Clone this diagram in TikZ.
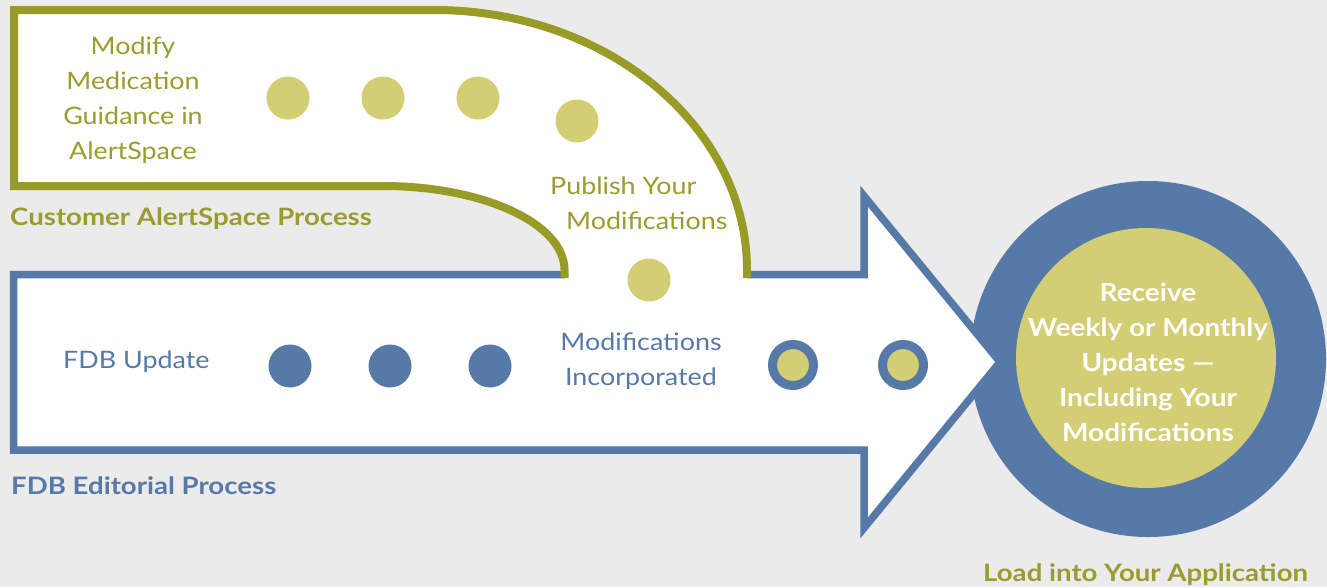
\documentclass[tikz,border=0pt]{standalone}
\usepackage{fontspec}
\setmainfont{Lato}[FakeStretch=1.12]
\newfontfamily\labelfont{Lato}[FakeStretch=1.15]
\definecolor{bgc}{RGB}{235,235,235}
\definecolor{olive}{RGB}{152,155,38}
\definecolor{olivetext}{RGB}{155,156,46}
\definecolor{dotgreen}{RGB}{211,205,116}
\definecolor{fdbblue}{RGB}{86,121,168}
\begin{document}
\begin{tikzpicture}[x=1pt,y=-1pt,
  greendot/.style={circle,fill=dotgreen,minimum size=43pt,inner sep=0pt},
  bluedot/.style={circle,fill=fdbblue,minimum size=43pt,inner sep=0pt},
  ringdot/.style={circle,fill=dotgreen,draw=fdbblue,line width=9pt,minimum size=41pt,inner sep=0pt},
  regtxt/.style={inner sep=0pt,font=\fontsize{24}{35}\selectfont,align=center},
  boldtxt/.style={inner sep=0pt,font=\labelfont\bfseries\fontsize{24}{35}\selectfont},
  gtube/.style={draw=olive,line width=8pt,line join=miter},
  barrow/.style={draw=fdbblue,line width=7.5pt,line join=miter,fill=white}]
\fill[bgc] (0,0) rectangle (1327,587);
\useasboundingbox (0,0) rectangle (1327,587);
% final circle
\node[circle,fill=fdbblue,minimum size=356pt,inner sep=0pt] (outer) at (1148,359) {};
\node[circle,fill=dotgreen,minimum size=260pt,inner sep=0pt] (inner) at (1146,358) {};
% blue arrow
\draw[barrow] (13.5,274.5) -- (864,274.5) -- (864,196) -- (1000,362) -- (864,528) -- (864,450) -- (13.5,450) -- cycle;
% green tube fill
\fill[white] (564.5,279) -- (564.5,270) .. controls (564.5,223.6) and (483.2,186) .. (383,186) -- (14,186) -- (14,10) -- (434,10) .. controls (606.9,10) and (747,126.4) .. (747,270) -- (747,279) -- cycle;
\draw[gtube] (564.5,278) -- (564.5,270) .. controls (564.5,223.6) and (483.2,186) .. (383,186) -- (14,186) -- (14,10) -- (434,10) .. controls (606.9,10) and (747,126.4) .. (747,270) -- (747,278);
% dots
\node[greendot] (g1) at (288,98) {};
\node[greendot] (g2) at (383,98) {};
\node[greendot] (g3) at (478,98) {};
\node[greendot] (g4) at (577,121) {};
\node[greendot] (g5) at (649,280) {};
\node[bluedot] (b1) at (290,366) {};
\node[bluedot] (b2) at (390,366) {};
\node[bluedot] (b3) at (490,366) {};
\node[ringdot] (r1) at (793,365) {};
\node[ringdot] (r2) at (903,365) {};
% texts
\node[regtxt,text=olivetext] (modify) at (133,100) {Modify\\Medication\\Guidance in\\AlertSpace};
\node[regtxt,text=olivetext,anchor=west,align=left] (publish) at (550,203) {Publish Your\\\hspace*{16pt}Modifications};
\node[regtxt,text=fdbblue] (incorp) at (641,361) {Modifications\\Incorporated};
\node[regtxt,text=fdbblue,anchor=west] (fdbup) at (63,362) {FDB Update};
\node[boldtxt,text=olivetext,anchor=west] (cust) at (10,219) {Customer AlertSpace Process};
\node[boldtxt,text=fdbblue,anchor=west] (edit) at (11,486) {FDB Editorial Process};
\node[boldtxt,text=olivetext,anchor=west] (load) at (983,575) {Load into Your Application};
\node[inner sep=0pt,font=\bfseries\fontsize{25}{35}\selectfont,align=center,text=white] (recv) at (1148,362) {Receive\\Weekly or Monthly\\Updates ---\\Including Your\\Modifications};
\end{tikzpicture}
\end{document}
